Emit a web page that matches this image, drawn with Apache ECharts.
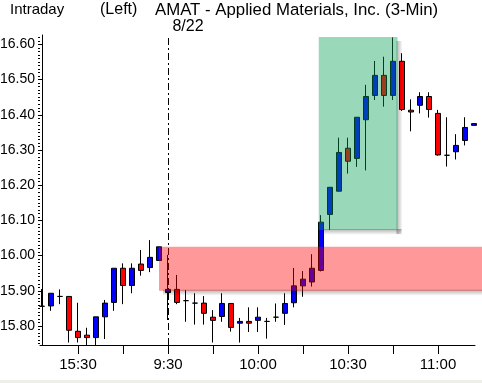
<!DOCTYPE html>
<html><head><meta charset="utf-8">
<script src="https://cdn.jsdelivr.net/npm/echarts@6/dist/echarts.min.js"></script>
<style>html,body{margin:0;padding:0;background:#fff}#c{width:482px;height:383px}</style>
</head><body><div id="c"></div>
<script>
// ---- data ----
const times = ['15:18','15:21','15:24','15:27','15:30','15:33','15:36','15:39','15:42','15:45','15:48','15:51','15:54','15:57',
  '9:30','9:33','9:36','9:39','9:42','9:45','9:48','9:51','9:54','9:57','10:00','10:03','10:06','10:09','10:12','10:15','10:18',
  '10:21','10:24','10:27','10:30','10:33','10:36','10:39','10:42','10:45','10:48','10:51','10:54','10:57','11:00','11:03','11:06','11:09','11:12'];
const opens  = [15.856,15.857,15.884,15.884,15.785,15.774,15.767,15.826,15.867,15.964,15.915,15.976,15.966,15.986,
  15.895,15.904,15.872,15.865,15.865,15.825,15.827,15.864,15.808,15.813,15.816,15.813,15.825,15.836,15.866,15.914,15.925,
  15.958,16.117,16.183,16.305,16.276,16.386,16.455,16.512,16.455,16.552,16.413,16.427,16.452,16.404,16.285,16.295,16.327,16.370];
const closes = [15.856,15.893,15.884,15.788,15.767,15.767,15.826,15.865,15.964,15.915,15.964,15.958,15.995,16.025,
  15.904,15.867,15.872,15.865,15.836,15.816,15.864,15.796,15.813,15.808,15.825,15.813,15.825,15.864,15.914,15.933,15.964,
  16.095,16.194,16.293,16.268,16.393,16.452,16.512,16.455,16.552,16.415,16.408,16.452,16.415,16.286,16.285,16.313,16.364,16.375];
const lows   = [15.856,15.843,15.862,15.753,15.753,15.744,15.744,15.763,15.843,15.862,15.893,15.943,15.953,15.986,
  15.817,15.862,15.812,15.804,15.804,15.753,15.812,15.784,15.753,15.783,15.783,15.764,15.812,15.803,15.853,15.883,15.912,
  15.955,16.073,16.182,16.233,16.252,16.242,16.442,16.423,16.442,16.411,16.353,16.404,16.392,16.284,16.253,16.273,16.313,16.370];
const highs  = [15.905,15.893,15.904,15.884,15.866,15.795,15.826,15.874,15.964,15.978,15.978,16.016,16.044,16.025,
  16.002,15.945,15.902,15.893,15.885,15.845,15.893,15.864,15.823,15.853,15.853,15.823,15.864,15.893,15.965,15.956,16.004,
  16.115,16.194,16.335,16.335,16.393,16.485,16.553,16.565,16.620,16.575,16.444,16.464,16.464,16.414,16.393,16.345,16.393,16.375];
const yTickLabels = ['15.80','15.90','16.00','16.10','16.20','16.30','16.40','16.50','16.60'];
const xTickTimes  = ['15:30','15:45','9:30','9:45','10:00','10:15','10:30','10:45','11:00'];
const xLabelTimes = ['15:30','9:30','10:00','10:30','11:00'];
const sessionStart = '9:30';
// annotation zones: [from position, to position, low price, high price]
const zoneRed   = [13.0, 49.0, 15.900, 16.025];
const zoneGreen = [30.75, 39.5, 16.073, 16.621];
const titleLeft = 'Intraday', titleMid = '(Left)', titleMain = 'AMAT - Applied Materials, Inc. (3-Min)', dateText = '8/22';

// ---- chart ----
const pos = t => times.indexOf(t);
const axisFont = '"Liberation Sans",Arial,sans-serif';
const candleData = times.map((t, i) => {
  const item = { value: [i, opens[i], closes[i], lows[i], highs[i]] };
  if (opens[i] === closes[i]) item.itemStyle = { color: '#000', color0: '#000', borderColor: '#000', borderColor0: '#000' };
  return item;
});
const minorTicks = [];
for (let k = 1575; k <= 1662; k++) minorTicks.push(k / 100);

const zoneColors = ['rgba(255,0,0,0.4)', 'rgba(0,160,80,0.4)'];
function shadowGrad(vertical) {
  return { type: 'linear', x: 0, y: 0, x2: vertical ? 0 : 1, y2: vertical ? 1 : 0,
    colorStops: [{ offset: 0, color: 'rgba(0,0,0,0.3)' }, { offset: 1, color: 'rgba(0,0,0,0)' }] };
}

const chart = echarts.init(document.getElementById('c'), null, { renderer: 'canvas' });
chart.setOption({
  animation: false,
  backgroundColor: '#fff',
  grid: { left: 40, right: 7, top: 35, bottom: 38, containLabel: false, outerBoundsMode: 'none' },
  xAxis: {
    type: 'value', min: -0.222, max: 48.11,
    splitLine: { show: false },
    axisLine: { lineStyle: { color: '#000', width: 1 } },
    axisTick: { show: true, length: 9, lineStyle: { color: '#000' }, customValues: xTickTimes.map(pos) },
    axisLabel: { customValues: xLabelTimes.map(pos), formatter: v => times[Math.round(v)],
      color: '#000', fontFamily: axisFont, fontSize: 15, margin: 12 }
  },
  yAxis: [{
    type: 'value', min: 15.746, max: 16.6267, position: 'left',
    splitLine: { show: false },
    axisLine: { show: true, lineStyle: { color: '#000', width: 1 } },
    axisTick: { show: true, length: 4, lineStyle: { color: '#000' }, customValues: yTickLabels.map(Number) },
    axisLabel: { customValues: yTickLabels.map(Number), formatter: v => v.toFixed(2),
      color: '#000', fontFamily: axisFont, fontSize: 14, margin: 5 }
  }, {
    type: 'value', min: 15.746, max: 16.6267, position: 'left', offset: 0,
    splitLine: { show: false },
    axisLine: { show: false },
    axisTick: { show: true, length: 2, lineStyle: { color: '#000' }, customValues: minorTicks },
    axisLabel: { show: false }
  }],
  series: [{
    type: 'candlestick',
    dimensions: ['pos', 'open', 'close', 'low', 'high'],
    encode: { x: 'pos', y: ['open', 'close', 'low', 'high'] },
    data: candleData,
    barWidth: 5,
    clip: true,
    z: 2,
    itemStyle: { color: '#0000ff', color0: '#ff0000', borderColor: '#000', borderColor0: '#000', borderWidth: 1 },
    markLine: {
      silent: true, symbol: ['none', 'none'], label: { show: false },
      lineStyle: { color: '#000', width: 1, type: [7, 3, 2, 3] },
      data: [{ xAxis: pos(sessionStart) }]
    }
  }, {
    type: 'custom',
    coordinateSystem: 'cartesian2d',
    clip: false, silent: true, z: 5,
    encode: { x: [0, 1], y: [2, 3] },
    data: [zoneRed, zoneGreen],
    renderItem: function (params, api) {
      const p1 = api.coord([api.value(0), api.value(3)]);
      const p2 = api.coord([api.value(1), api.value(2)]);
      const x = p1[0], y = p1[1], w = p2[0] - p1[0], h = p2[1] - p1[1];
      return { type: 'group', children: [
        { type: 'rect', shape: { x: x + 4, y: y + h - 1, width: w, height: 6 }, style: { fill: shadowGrad(true) } },
        { type: 'rect', shape: { x: x + w - 1, y: y + 4, width: 6, height: h }, style: { fill: shadowGrad(false) } },
        { type: 'rect', shape: { x: x, y: y, width: w, height: h }, style: { fill: zoneColors[params.dataIndex] } }
      ] };
    }
  }],
  graphic: [
    { type: 'text', left: 10, top: 2, style: { text: titleLeft, font: '15px "Liberation Sans"', fill: '#000' } },
    { type: 'text', left: 100, top: 2, style: { text: titleMid, font: '16px "Liberation Sans"', fill: '#000' } },
    { type: 'text', left: 155, top: 2, style: { text: titleMain, font: '16.8px "Liberation Sans"', fill: '#000' } },
    { type: 'text', x: 188, y: 19, style: { text: dateText, font: '16px "Liberation Sans"', fill: '#000', align: 'center' } },
    { type: 'rect', left: 0, top: 380, shape: { width: 482, height: 3 }, style: { fill: '#efefe9' } }
  ]
});
</script></body></html>
